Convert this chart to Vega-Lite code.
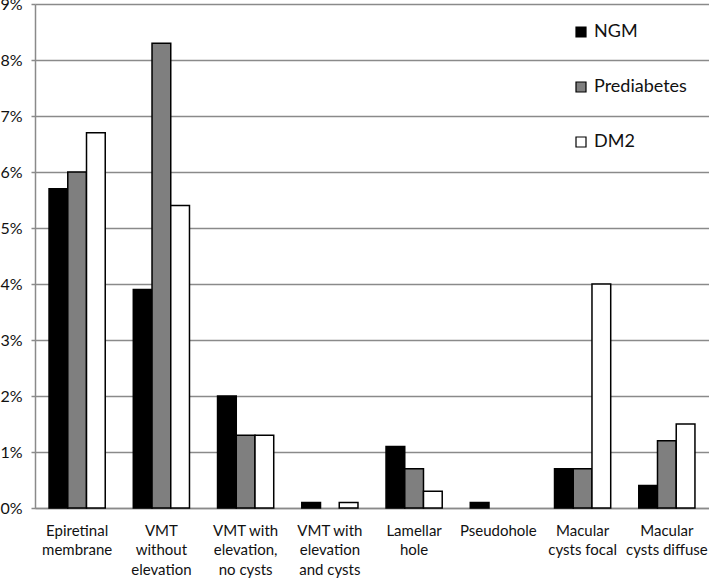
{
  "$schema": "https://vega.github.io/schema/vega-lite/v6.json",
  "width": 674,
  "height": 504,
  "autosize": {"type": "none"},
  "padding": {"left": 35, "top": 4, "right": 0, "bottom": 70},
  "background": "white",
  "config": {
    "view": {"stroke": null},
    "font": "Lato",
    "axis": {"labelFont": "Lato", "labelColor": "#111111"},
    "legend": {"labelFont": "Lato"}
  },
  "data": {
    "values": [
      {"finding": "Epiretinal|membrane", "group": "NGM", "pct": 0.057},
      {"finding": "Epiretinal|membrane", "group": "Prediabetes", "pct": 0.060},
      {"finding": "Epiretinal|membrane", "group": "DM2", "pct": 0.067},
      {"finding": "VMT|without|elevation", "group": "NGM", "pct": 0.039},
      {"finding": "VMT|without|elevation", "group": "Prediabetes", "pct": 0.083},
      {"finding": "VMT|without|elevation", "group": "DM2", "pct": 0.054},
      {"finding": "VMT with|elevation,|no cysts", "group": "NGM", "pct": 0.020},
      {"finding": "VMT with|elevation,|no cysts", "group": "Prediabetes", "pct": 0.013},
      {"finding": "VMT with|elevation,|no cysts", "group": "DM2", "pct": 0.013},
      {"finding": "VMT with|elevation|and cysts", "group": "NGM", "pct": 0.001},
      {"finding": "VMT with|elevation|and cysts", "group": "DM2", "pct": 0.001},
      {"finding": "Lamellar|hole", "group": "NGM", "pct": 0.011},
      {"finding": "Lamellar|hole", "group": "Prediabetes", "pct": 0.007},
      {"finding": "Lamellar|hole", "group": "DM2", "pct": 0.003},
      {"finding": "Pseudohole", "group": "NGM", "pct": 0.001},
      {"finding": "Macular|cysts focal", "group": "NGM", "pct": 0.007},
      {"finding": "Macular|cysts focal", "group": "Prediabetes", "pct": 0.007},
      {"finding": "Macular|cysts focal", "group": "DM2", "pct": 0.040},
      {"finding": "Macular|cysts diffuse", "group": "NGM", "pct": 0.004},
      {"finding": "Macular|cysts diffuse", "group": "Prediabetes", "pct": 0.012},
      {"finding": "Macular|cysts diffuse", "group": "DM2", "pct": 0.015}
    ]
  },
  "mark": {"type": "bar", "stroke": "#000000", "strokeWidth": 1.5},
  "encoding": {
    "x": {
      "field": "finding",
      "type": "nominal",
      "sort": null,
      "scale": {"paddingInner": 0.333, "paddingOuter": 0.1667},
      "axis": {
        "title": null,
        "labelAngle": 0,
        "labelExpr": "split(datum.label, '|')",
        "labelFontSize": 15,
        "labelLineHeight": 19.5,
        "labelPadding": 15,
        "labelBaseline": "top",
        "ticks": false,
        "domain": true,
        "domainColor": "#8a8a8a",
        "domainWidth": 1.5,
        "grid": false
      }
    },
    "xOffset": {
      "field": "group",
      "type": "nominal",
      "scale": {"domain": ["NGM", "Prediabetes", "DM2"], "paddingInner": 0, "paddingOuter": 0}
    },
    "y": {
      "field": "pct",
      "type": "quantitative",
      "scale": {"domain": [0, 0.09], "nice": false},
      "axis": {
        "title": null,
        "format": ".0%",
        "values": [0, 0.01, 0.02, 0.03, 0.04, 0.05, 0.06, 0.07, 0.08, 0.09],
        "labelFontSize": 16,
        "labelPadding": 9,
        "tickSize": 4,
        "tickColor": "#8a8a8a",
        "tickWidth": 1.5,
        "domainColor": "#8a8a8a",
        "domainWidth": 1.5,
        "gridColor": "#8a8a8a",
        "gridWidth": 1.5,
        "gridOpacity": 1
      }
    },
    "fill": {
      "field": "group",
      "type": "nominal",
      "scale": {"domain": ["NGM", "Prediabetes", "DM2"], "range": ["#000000", "#7f7f7f", "#ffffff"]},
      "legend": {
        "title": null,
        "orient": "none",
        "legendX": 537,
        "legendY": 19,
        "symbolType": "square",
        "symbolSize": 100,
        "symbolStrokeColor": "#000000",
        "symbolStrokeWidth": 1.2,
        "labelFontSize": 18,
        "labelColor": "#111111",
        "labelOffset": 4,
        "rowPadding": 37
      }
    }
  }
}
